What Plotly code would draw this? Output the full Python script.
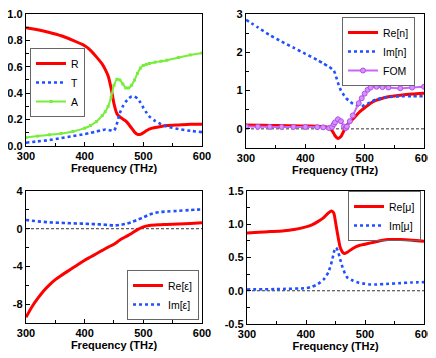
import plotly.graph_objects as go
from plotly.subplots import make_subplots

# ---- data ----
# (a) R / T / A
f_rta = [300, 320, 340, 360, 380, 400, 410, 420, 430, 435, 440, 445, 450, 455, 460, 465, 470,
         475, 480, 485, 490, 495, 500, 505, 510, 520, 530, 540, 560, 580, 600]
R = [0.895, 0.88, 0.86, 0.835, 0.80, 0.76, 0.725, 0.675, 0.62, 0.58, 0.53, 0.44, 0.32, 0.245,
     0.22, 0.205, 0.19, 0.165, 0.135, 0.105, 0.088, 0.088, 0.10, 0.115, 0.128, 0.14, 0.148,
     0.155, 0.16, 0.165, 0.165]
T = [0.025, 0.035, 0.045, 0.06, 0.075, 0.09, 0.10, 0.11, 0.12, 0.125, 0.122, 0.118, 0.115,
     0.17, 0.25, 0.30, 0.335, 0.36, 0.375, 0.375, 0.36, 0.33, 0.29, 0.255, 0.225, 0.19, 0.165,
     0.148, 0.128, 0.115, 0.105]
A = [0.065, 0.075, 0.085, 0.095, 0.11, 0.135, 0.155, 0.185, 0.23, 0.26, 0.30, 0.37, 0.46,
     0.505, 0.50, 0.47, 0.44, 0.44, 0.46, 0.50, 0.55, 0.59, 0.61, 0.618, 0.625, 0.635, 0.642,
     0.65, 0.67, 0.69, 0.705]

# (b) refractive index and FOM
f_n = [300, 320, 340, 360, 380, 400, 420, 430, 440, 445, 448, 450, 455, 460, 465, 468, 470,
       475, 480, 490, 495, 500, 505, 510, 520, 530, 540, 560, 580, 600]
re_n = [0.10, 0.095, 0.09, 0.085, 0.08, 0.075, 0.07, 0.06, 0.03, -0.05, -0.12, -0.18, -0.25,
        -0.2, -0.05, 0.04, 0.10, 0.18, 0.25, 0.42, 0.49, 0.55, 0.61, 0.67, 0.75, 0.80, 0.84,
        0.88, 0.91, 0.93]
im_n = [2.85, 2.65, 2.45, 2.28, 2.12, 1.96, 1.80, 1.71, 1.62, 1.56, 1.52, 1.45, 1.20, 1.00,
        0.88, 0.82, 0.78, 0.72, 0.66, 0.60, 0.59, 0.62, 0.66, 0.70, 0.77, 0.81, 0.83, 0.85,
        0.85, 0.85]
fom = [0.06, 0.055, 0.05, 0.05, 0.05, 0.05, 0.045, 0.04, 0.02, 0.05, 0.12, 0.17, 0.25, 0.20,
       0.06, 0.02, 0.06, 0.20, 0.35, 0.67, 0.80, 0.92, 1.02, 1.08, 1.10, 1.09, 1.08, 1.06,
       1.08, 1.10]

# (c) permittivity
f_eps = [300, 310, 320, 330, 340, 350, 360, 370, 380, 390, 400, 410, 420, 430, 440, 450, 460,
         470, 480, 490, 500, 510, 520, 530, 540, 560, 580, 600]
re_eps = [-9.4, -8.3, -7.4, -6.6, -5.95, -5.4, -4.95, -4.55, -4.15, -3.75, -3.35, -3.0, -2.65,
          -2.3, -1.95, -1.65, -1.2, -0.85, -0.5, -0.1, 0.2, 0.35, 0.4, 0.42, 0.45, 0.5, 0.56,
          0.63]
im_eps = [0.92, 0.85, 0.78, 0.73, 0.68, 0.65, 0.62, 0.6, 0.57, 0.55, 0.53, 0.5, 0.48, 0.44,
          0.4, 0.35, 0.4, 0.52, 0.7, 0.95, 1.2, 1.5, 1.68, 1.78, 1.83, 1.9, 1.98, 2.05]

# (d) permeability
f_mu = [300, 320, 340, 360, 380, 400, 410, 420, 430, 438, 443, 447, 451, 455, 458, 462, 465,
        470, 480, 490, 500, 510, 520, 530, 540, 560, 580, 600]
re_mu = [0.87, 0.88, 0.89, 0.90, 0.92, 0.96, 0.99, 1.04, 1.10, 1.17, 1.20, 1.17, 0.98, 0.78,
         0.65, 0.58, 0.56, 0.58, 0.64, 0.68, 0.70, 0.72, 0.74, 0.76, 0.77, 0.77, 0.76, 0.745]
f_mu2 = [300, 350, 400, 410, 420, 430, 438, 444, 448, 451, 454, 458, 462, 466, 470, 480, 490,
         500, 510, 520, 540, 560, 580, 600]
im_mu = [0.02, 0.025, 0.04, 0.06, 0.10, 0.17, 0.28, 0.45, 0.60, 0.65, 0.60, 0.47, 0.35, 0.26,
         0.20, 0.15, 0.12, 0.105, 0.095, 0.095, 0.105, 0.115, 0.125, 0.13]

x_ticks = [300, 400, 500, 600]
eps_ticks = [-8, -4, 0, 4]
eps_labels = ["-8", "-4", "0", "4"]
mu_ticks = [-0.5, 0.0, 0.5, 1.0, 1.5]
mu_labels = ["-0.5", "0.0", "0.5", "1.0", "1.5"]

RED = "#ff0000"
BLUE = "#2050ff"
GREEN = "#77ee3c"
VIOLET = "#c866f5"
FONT = "Liberation Sans, Arial, sans-serif"

fig = make_subplots(rows=2, cols=2)


def solid(x, y, name, leg):
    return go.Scatter(x=x, y=y, name=name, legend=leg, mode="lines",
                      line=dict(color=RED, width=3, shape="spline", smoothing=0.6))


def dotted(x, y, name, leg):
    return go.Scatter(x=x, y=y, name=name, legend=leg, mode="lines",
                      line=dict(color=BLUE, width=2.6, dash="dot", shape="spline", smoothing=0.6))


fig.add_trace(solid(f_rta, R, "R", "legend"), 1, 1)
fig.add_trace(dotted(f_rta, T, "T", "legend"), 1, 1)
fig.add_trace(go.Scatter(x=f_rta, y=A, name="A", legend="legend", mode="lines+markers",
                         line=dict(color=GREEN, width=2, shape="spline", smoothing=0.6),
                         marker=dict(symbol="square", size=3, color=GREEN)), 1, 1)

fig.add_trace(solid(f_n, re_n, "Re[n]", "legend2"), 1, 2)
fig.add_trace(dotted(f_n, im_n, "Im[n]", "legend2"), 1, 2)
fig.add_trace(go.Scatter(x=f_n, y=fom, name="FOM", legend="legend2", mode="lines+markers",
                         line=dict(color=VIOLET, width=2, shape="spline", smoothing=0.6),
                         marker=dict(symbol="circle", size=5, color="#d890ff",
                                     line=dict(color="#b050e8", width=1))), 1, 2)

fig.add_trace(solid(f_eps, re_eps, "Re[ε]", "legend3"), 2, 1)
fig.add_trace(dotted(f_eps, im_eps, "Im[ε]", "legend3"), 2, 1)

fig.add_trace(solid(f_mu, re_mu, "Re[μ]", "legend4"), 2, 2)
fig.add_trace(dotted(f_mu2, im_mu, "Im[μ]", "legend4"), 2, 2)

# dashed zero lines
for r, c in [(1, 2), (2, 1), (2, 2)]:
    fig.add_hline(y=0, row=r, col=c, line=dict(color="#333333", width=1, dash="3px,2px"),
                  layer="below")

axis_common = dict(showline=True, linecolor="black", linewidth=1.3, mirror=True,
                   showgrid=False, zeroline=False, ticks="inside", ticklen=4, tickwidth=1.2,
                   tickcolor="black", automargin=False, ticklabeloverflow="allow",
                   tickfont=dict(family=FONT, size=11, color="black", weight="bold"))

# page body adds an 8px margin, so the figure is 428x350 and shifted by 8px
xdom = {1: [0.0420, 0.4533], 2: [0.5561, 0.9720], 3: [0.0420, 0.4533], 4: [0.5584, 0.9720]}
ydom = {1: [0.6057, 0.9829], 2: [0.6000, 0.9829], 3: [0.1000, 0.4771], 4: [0.0971, 0.4771]}

for i in range(1, 5):
    sfx = "" if i == 1 else str(i)
    fig.layout["xaxis" + sfx].update(
        domain=xdom[i], range=[300, 600], tickvals=x_ticks,
        minor=dict(dtick=50, ticks="inside", ticklen=2.5, tickcolor="black"),
        title=dict(text="Frequency (THz)", standoff=2,
                   font=dict(family=FONT, size=11, color="black", weight="bold")),
        **axis_common)
    fig.layout["yaxis" + sfx].update(domain=ydom[i], **axis_common)

fig.layout.yaxis.update(range=[0, 1.0], dtick=0.2, tickformat=".1f",
                        minor=dict(dtick=0.1, ticks="inside", ticklen=2.5, tickcolor="black"))
fig.layout.yaxis2.update(range=[-0.5, 3], dtick=1,
                         minor=dict(dtick=0.5, ticks="inside", ticklen=2.5, tickcolor="black"))
fig.layout.yaxis3.update(range=[-10, 4], tickvals=eps_ticks, ticktext=eps_labels,
                         minor=dict(dtick=2, ticks="inside", ticklen=2.5, tickcolor="black"))
fig.layout.yaxis4.update(range=[-0.5, 1.5], tickvals=mu_ticks, ticktext=mu_labels,
                         minor=dict(dtick=0.25, ticks="inside", ticklen=2.5, tickcolor="black"))

leg_common = dict(bordercolor="#666666", borderwidth=1,
                  font=dict(family=FONT, size=10.5, color="black"),
                  tracegroupgap=0, itemwidth=30)

fig.update_layout(
    width=428, height=350, margin=dict(l=0, r=0, t=0, b=0),
    paper_bgcolor="white", plot_bgcolor="white", showlegend=True,
    legend=dict(x=0.0514, y=0.8857, xanchor="left", yanchor="top", bgcolor="white",
                **leg_common),
    legend2=dict(x=0.9509, y=0.9743, xanchor="right", yanchor="top", bgcolor="white",
                 **leg_common),
    legend3=dict(x=0.4463, y=0.1086, xanchor="right", yanchor="bottom", bgcolor="white",
                 **leg_common),
    legend4=dict(x=0.965, y=0.4771, xanchor="right", yanchor="top",
                 bgcolor="rgba(255,255,255,0)", **leg_common),
)

fig.write_html("out.html")
